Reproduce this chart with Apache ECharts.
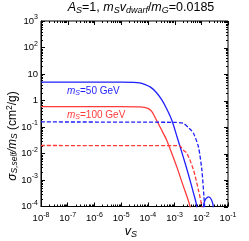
<!DOCTYPE html>
<html><head><meta charset="utf-8">
<script src="https://cdn.jsdelivr.net/npm/echarts@6/dist/echarts.min.js"></script>
<style>html,body{margin:0;padding:0;background:#fff}#c{width:249px;height:241px}</style>
</head><body><div id="c"></div>
<script>
// ---- data ----
var xTickValues = [1e-8,1e-7,1e-6,1e-5,1e-4,1e-3,1e-2,1e-1];
var yTickValues = [1e-4,1e-3,1e-2,1e-1,1,10,100,1000];

// m_S = 50 GeV, solid
var blueSolidX = [1e-8,1e-6,1e-5,3e-5,5e-5,8e-5,1.26e-4,2e-4,3.2e-4,5e-4,7.9e-4,1.26e-3,2e-3,3.2e-3,5e-3,6.8e-3,7.6e-3,1.1e-2,1.2e-2,1.41e-2,1.86e-2,2.4e-2,2.8e-2,3.0e-2];
var blueSolidY = [4.9,4.9,4.9,4.85,4.6,4.0,3.2,2.1,1.12,0.5,0.18,0.04,0.0089,0.0018,3.5e-4,1e-4,1e-5,1e-6,1e-4,1.8e-4,2.3e-4,1.8e-4,1e-4,1e-5];
// m_S = 100 GeV, solid
var redSolidX = [1e-8,1e-5,5e-5,1e-4,1.41e-4,2e-4,3.2e-4,5e-4,7.9e-4,1.26e-3,2e-3,3.2e-3,4.2e-3];
var redSolidY = [0.59,0.59,0.57,0.5,0.38,0.2,0.08,0.033,0.01,0.0028,7e-4,1.8e-4,7e-5];
// m_S = 50 GeV, dashed
var blueDashX = [1e-8,1e-3,2.1e-3,3.5e-3,5.1e-3,7.8e-3,1.05e-2,1.26e-2,1.35e-2];
var blueDashY = [0.155,0.15,0.138,0.09,0.058,0.018,2.4e-3,2.3e-4,8e-5];
// m_S = 100 GeV, dashed
var redDashX = [1e-8,1e-3,1.6e-3,2.1e-3,2.9e-3,5.1e-3,7.8e-3,1.05e-2,1.1e-2];
var redDashY = [0.02,0.0198,0.019,0.0135,0.0102,2.4e-3,4.2e-4,1e-4,5e-5];

function zip(a,b){return a.map(function(v,i){return [v,b[i]];});}

var xMinor=[], yMinor=[];
for (var k=-8;k<-1;k++) for (var m=2;m<10;m++) xMinor.push(m*Math.pow(10,k));
for (var k2=-4;k2<3;k2++) for (var m2=2;m2<10;m2++) yMinor.push(m2*Math.pow(10,k2));

var FONT = 'Liberation Sans';
var supStyle = {fontSize:7, fontFamily:FONT, color:'#000', padding:[0,0,7,0]};
function expLabel(v){
  var e = Math.round(Math.log10(v));
  if (e===0) return '1';
  if (e===1) return '10';
  return '10{sup|'+e+'}';
}

var BLUE='#1f1fff', RED='#ff3b3b';

var chart = echarts.init(document.getElementById('c'), null, {renderer:'canvas'});
var tickData = [];
xTickValues.forEach(function(v){tickData.push(['xM',v]);});
yTickValues.forEach(function(v){tickData.push(['yM',v]);});
xMinor.forEach(function(v){tickData.push(['xm',v]);});
yMinor.forEach(function(v){tickData.push(['ym',v]);});

function richSet(color,size,sub){
  return {i:{fontStyle:'italic',fontSize:size,fontFamily:FONT,color:color},
          s:{fontStyle:'italic',fontSize:sub,fontFamily:FONT,color:color,padding:[Math.round(sub*0.5),0,0,0]},
          u:{fontSize:sub,fontFamily:FONT,color:color,padding:[0,0,Math.round(sub*0.7),0]}};
}

chart.setOption({
  animation:false,
  grid:{left:41,right:21,top:21,bottom:34.5,show:true,borderColor:'#000',borderWidth:1,backgroundColor:'transparent'},
  graphic:[
    {type:'text',x:141,y:8,style:{
      text:'{i|A}{s|S}=1, {i|m}{s|S}{i|v}{s|dwarf}/{i|m}{s|G}=0.0185',
      fontSize:12.5,fontFamily:FONT,fill:'#000',align:'center',verticalAlign:'middle',
      rich:richSet('#000',12.5,9)
    }},
    {type:'text',x:13,y:136,rotation:Math.PI/2,style:{
      text:'{i|σ}{s|S,self}{i|/m}{s|S} (cm{u|2}/g)',
      fontSize:12,fontFamily:FONT,fill:'#000',align:'center',verticalAlign:'middle',
      rich:richSet('#000',12,8.5)
    }},
    {type:'text',x:131,y:232,style:{
      text:'{i|v}{s|S}',fontSize:12.5,fontFamily:FONT,fill:'#000',align:'center',verticalAlign:'middle',
      rich:richSet('#000',12.5,9)
    }},
    {type:'text',x:67,y:91,style:{
      text:'{i|m}{s|S}=50 GeV',fill:BLUE,fontSize:10,fontFamily:FONT,align:'left',verticalAlign:'middle',
      rich:richSet(BLUE,10,7)
    }},
    {type:'text',x:67,y:115,style:{
      text:'{i|m}{s|S}=100 GeV',fill:RED,fontSize:10,fontFamily:FONT,align:'left',verticalAlign:'middle',
      rich:richSet(RED,10,7)
    }}
  ],
  xAxis:{type:'log',logBase:10,min:1e-8,max:1e-1,splitNumber:7,
    axisLine:{lineStyle:{color:'#000',width:1}},
    axisTick:{show:true,inside:true,length:4,lineStyle:{color:'#000'}},
    splitLine:{show:false},minorTick:{show:false},
    axisLabel:{fontSize:9.5,fontFamily:FONT,color:'#000',margin:5,formatter:expLabel,rich:{sup:supStyle}}
  },
  yAxis:{type:'log',logBase:10,min:1e-4,max:1e3,splitNumber:7,
    axisLine:{lineStyle:{color:'#000',width:1}},
    axisTick:{show:true,inside:true,length:4,lineStyle:{color:'#000'}},
    splitLine:{show:false},minorTick:{show:false},
    axisLabel:{fontSize:9.5,fontFamily:FONT,color:'#000',margin:3,formatter:expLabel,rich:{sup:supStyle}}
  },
  series:[
    {type:'line',data:zip(blueSolidX,blueSolidY),showSymbol:false,symbol:'none',smooth:0.25,clip:true,lineStyle:{color:BLUE,width:1.3}},
    {type:'line',data:zip(redSolidX,redSolidY),showSymbol:false,symbol:'none',smooth:0.25,clip:true,lineStyle:{color:RED,width:1.3}},
    {type:'line',data:zip(blueDashX,blueDashY),showSymbol:false,symbol:'none',smooth:0.25,clip:true,lineStyle:{color:BLUE,width:1.3,type:[4,2]}},
    {type:'line',data:zip(redDashX,redDashY),showSymbol:false,symbol:'none',smooth:0.25,clip:true,lineStyle:{color:RED,width:1.3,type:[4,2]}},
    {type:'custom',data:tickData,silent:true,clip:false,
      renderItem:function(params,api){
        var kind=tickData[params.dataIndex][0], v=tickData[params.dataIndex][1];
        var els=[];
        var st={stroke:'#000',lineWidth:1};
        if (kind==='xM'||kind==='xm'){
          var L = kind==='xM'?4:2;
          var b=api.coord([v,1e-4]), t=api.coord([v,1e3]);
          var x=Math.round(b[0])+0.5;
          if (kind==='xm') els.push({type:'line',shape:{x1:x,y1:b[1],x2:x,y2:b[1]-L},style:st});
          els.push({type:'line',shape:{x1:x,y1:t[1],x2:x,y2:t[1]+L},style:st});
        } else {
          var L2 = kind==='yM'?4:2;
          var l=api.coord([1e-8,v]), r=api.coord([1e-1,v]);
          var y=Math.round(l[1])+0.5;
          if (kind==='ym') els.push({type:'line',shape:{x1:l[0],y1:y,x2:l[0]+L2,y2:y},style:st});
          els.push({type:'line',shape:{x1:r[0],y1:y,x2:r[0]-L2,y2:y},style:st});
        }
        return {type:'group',children:els};
      }
    }
  ]
});
</script></body></html>
